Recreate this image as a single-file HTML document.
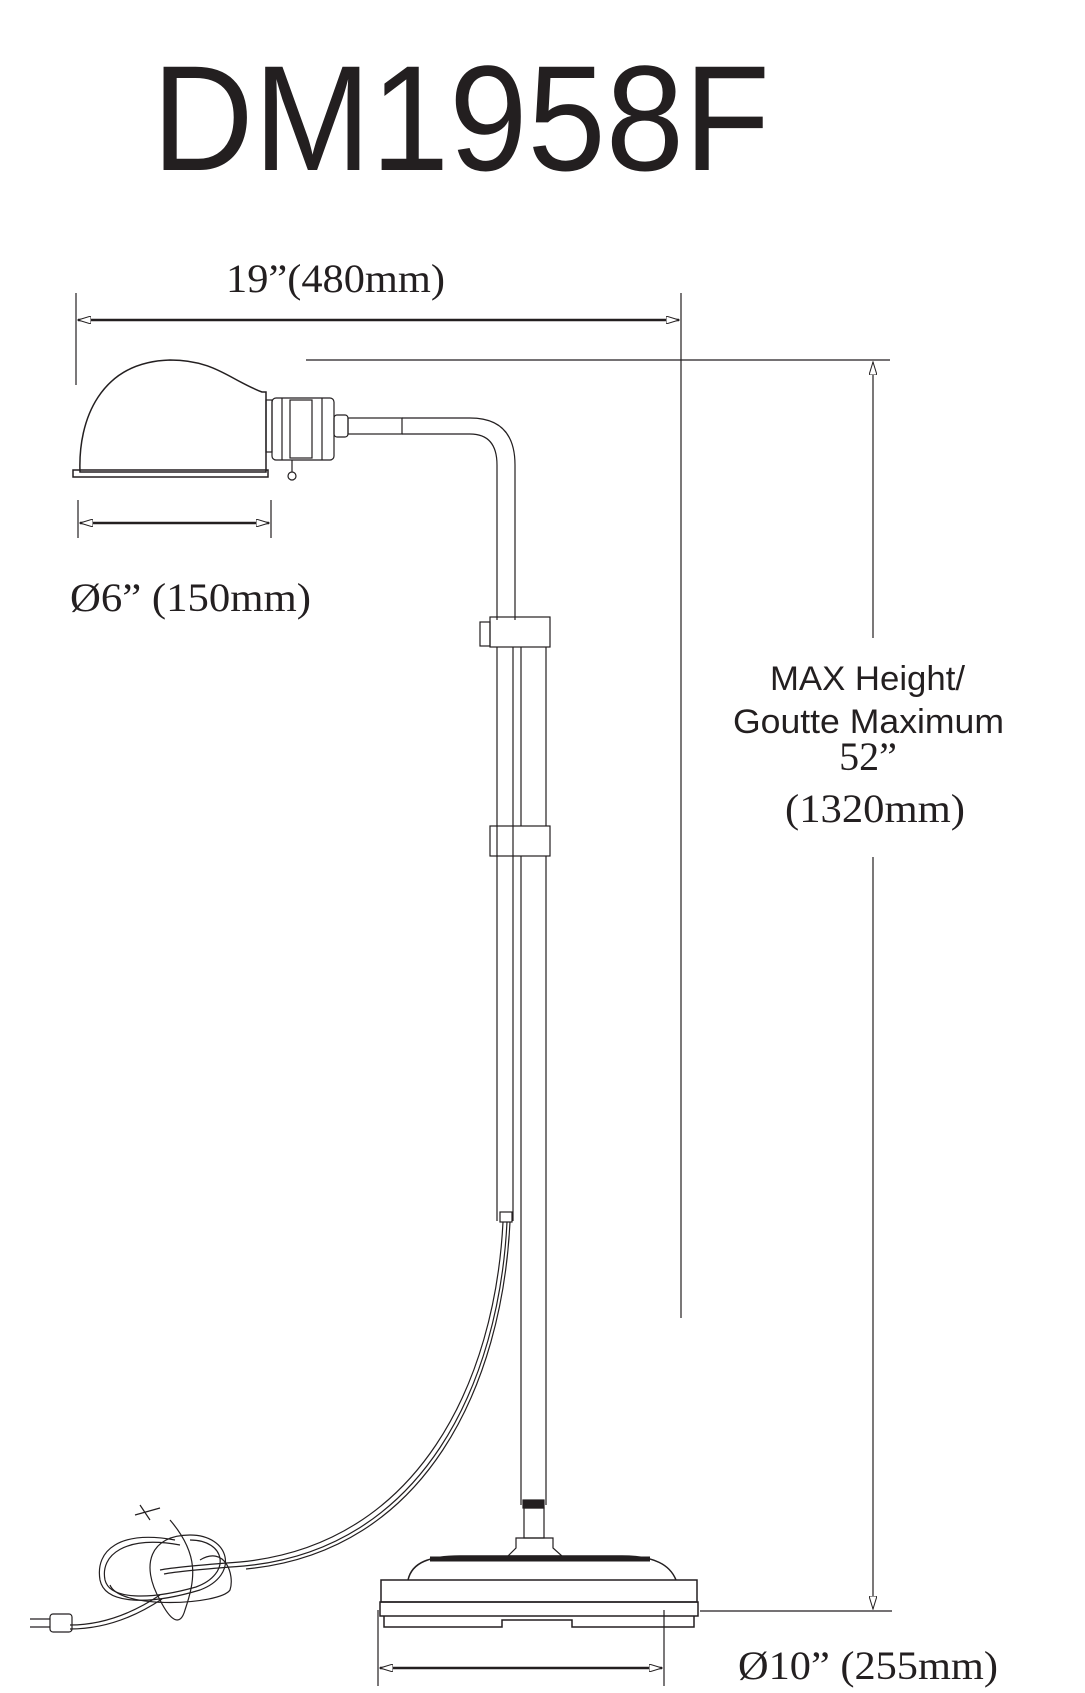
<!DOCTYPE html>
<html><head><meta charset="utf-8"><style>
html,body{margin:0;padding:0;background:#fff;}
svg{display:block;}
.s{font-family:"Liberation Serif",serif;fill:#231f20;}
.a{font-family:"Liberation Sans",sans-serif;fill:#231f20;}
</style></head><body>
<svg width="1085" height="1693" viewBox="0 0 1085 1693" xmlns="http://www.w3.org/2000/svg">
<defs>
<marker id="ar" markerWidth="14" markerHeight="8" refX="13" refY="4" orient="auto-start-reverse" markerUnits="userSpaceOnUse">
<path d="M0,0 L13,4 L0,8 Z" fill="#fff" stroke="#231f20" stroke-width="1"/></marker>
</defs>
<text x="152" y="170" class="a" font-size="150" textLength="618" lengthAdjust="spacingAndGlyphs">DM1958F</text>

<g stroke="#231f20" fill="none" stroke-width="1.2">
<line x1="76" y1="293" x2="76" y2="385"/>
<line x1="681" y1="293" x2="681" y2="1318"/>
<line x1="78" y1="320" x2="679" y2="320" stroke-width="2.5" marker-end="url(#ar)" marker-start="url(#ar)"/>
<line x1="306" y1="360" x2="890" y2="360"/>
<line x1="873" y1="362" x2="873" y2="638" marker-start="url(#ar)"/>
<line x1="873" y1="857" x2="873" y2="1609" marker-end="url(#ar)"/>
<line x1="700" y1="1611" x2="892" y2="1611"/>
<line x1="78" y1="500" x2="78" y2="538"/>
<line x1="271" y1="500" x2="271" y2="538"/>
<line x1="80" y1="523" x2="269" y2="523" stroke-width="2.5" marker-end="url(#ar)" marker-start="url(#ar)"/>
<line x1="378" y1="1610" x2="378" y2="1686"/>
<line x1="664" y1="1610" x2="664" y2="1686"/>
<line x1="380" y1="1668" x2="662" y2="1668" stroke-width="2.5" marker-end="url(#ar)" marker-start="url(#ar)"/>

<path d="M80,472 C78,420 100,362 170,360 C215,360 230,380 262,392 L266,392 L266,472 Z" stroke-width="1.5"/>
<rect x="73" y="470" width="195" height="7" stroke-width="1.5"/>
<rect x="266" y="400" width="6" height="52"/>
<rect x="272" y="398" width="62" height="62" rx="4"/>
<line x1="282" y1="398" x2="282" y2="460"/><line x1="322" y1="398" x2="322" y2="460"/>
<rect x="290" y="400" width="22" height="58"/>
<line x1="292" y1="460" x2="292" y2="472"/><circle cx="292" cy="476" r="4"/>
<rect x="334" y="415" width="14" height="22" rx="3"/>
<rect x="348" y="418" width="54" height="16"/>
<path d="M402,418 L470,418 Q515,418 515,465 L515,620"/>
<path d="M402,434 L470,434 Q497,434 497,465 L497,620"/>
<rect x="490" y="617" width="60" height="30"/>
<rect x="480" y="622" width="10" height="24"/>
<rect x="490" y="826" width="60" height="30"/>
<line x1="497" y1="647" x2="497" y2="1221"/><line x1="513" y1="647" x2="513" y2="1221"/>
<line x1="521" y1="647" x2="521" y2="826"/><line x1="546" y1="647" x2="546" y2="826"/>
<rect x="500" y="1212" width="12" height="10"/>
<line x1="521" y1="856" x2="521" y2="1505"/><line x1="546" y1="856" x2="546" y2="1505"/>
<rect x="523" y="1500" width="21" height="8" fill="#231f20"/>
<rect x="524" y="1508" width="20" height="30"/>
<path d="M516,1538 L553,1538 L553,1548 L562,1556 L508,1556 L516,1548 Z"/>
<path d="M408,1580 C412,1562 430,1556 460,1556 L622,1556 C655,1556 670,1565 676,1580" stroke-width="1.5"/>
<path d="M430,1559 L650,1559" stroke-width="5"/>
<rect x="381" y="1580" width="316" height="22" stroke-width="1.5"/>
<rect x="380" y="1602" width="318" height="14" stroke-width="1.5"/>
<path d="M384,1616 L384,1627 L502,1627 L502,1620 L572,1620 L572,1627 L694,1627 L694,1616" stroke-width="1.5"/>
<g stroke-width="1.2">
<path d="M503,1222 C495,1380 420,1545 240,1562 C200,1565 170,1568 160,1570"/>
<path d="M507,1222 C499,1382 424,1549 244,1566 C204,1569 174,1572 164,1574"/>
<path d="M510,1222 C502,1384 427,1552 246,1569"/>
<path d="M175,1540 C120,1530 95,1550 100,1580 C105,1605 150,1605 200,1590 C240,1575 230,1535 190,1535 C150,1535 140,1565 160,1600 C170,1620 180,1628 185,1610 C195,1580 200,1555 170,1520"/>
<path d="M180,1545 C125,1535 100,1555 105,1580 C110,1600 150,1600 196,1587 C232,1574 226,1540 190,1540"/>
<path d="M200,1560 C225,1545 235,1575 230,1590 C220,1605 120,1610 110,1585"/>
<path d="M160,1595 C130,1615 100,1625 70,1625"/>
<path d="M162,1599 C132,1619 102,1629 70,1629"/>
<path d="M140,1505 L150,1520 M135,1515 L160,1508"/>
<rect x="50" y="1614" width="22" height="18" rx="3"/>
<line x1="30" y1="1619" x2="50" y2="1619"/><line x1="30" y1="1627" x2="50" y2="1627"/>
</g>
</g>

<text x="226" y="292" class="s" font-size="40" textLength="219" lengthAdjust="spacingAndGlyphs">19”(480mm)</text>
<text x="70" y="611" class="s" font-size="40" textLength="241" lengthAdjust="spacingAndGlyphs">Ø6” (150mm)</text>
<text x="770" y="690" class="a" font-size="34" textLength="195" lengthAdjust="spacingAndGlyphs">MAX Height/</text>
<text x="733" y="733" class="a" font-size="34" textLength="271" lengthAdjust="spacingAndGlyphs">Goutte Maximum</text>
<text x="868" y="770" class="s" font-size="40" text-anchor="middle">52”</text>
<text x="785" y="822" class="s" font-size="40" textLength="180" lengthAdjust="spacingAndGlyphs">(1320mm)</text>
<text x="738" y="1679" class="s" font-size="40" textLength="260" lengthAdjust="spacingAndGlyphs">Ø10” (255mm)</text>
</svg>
</body></html>
